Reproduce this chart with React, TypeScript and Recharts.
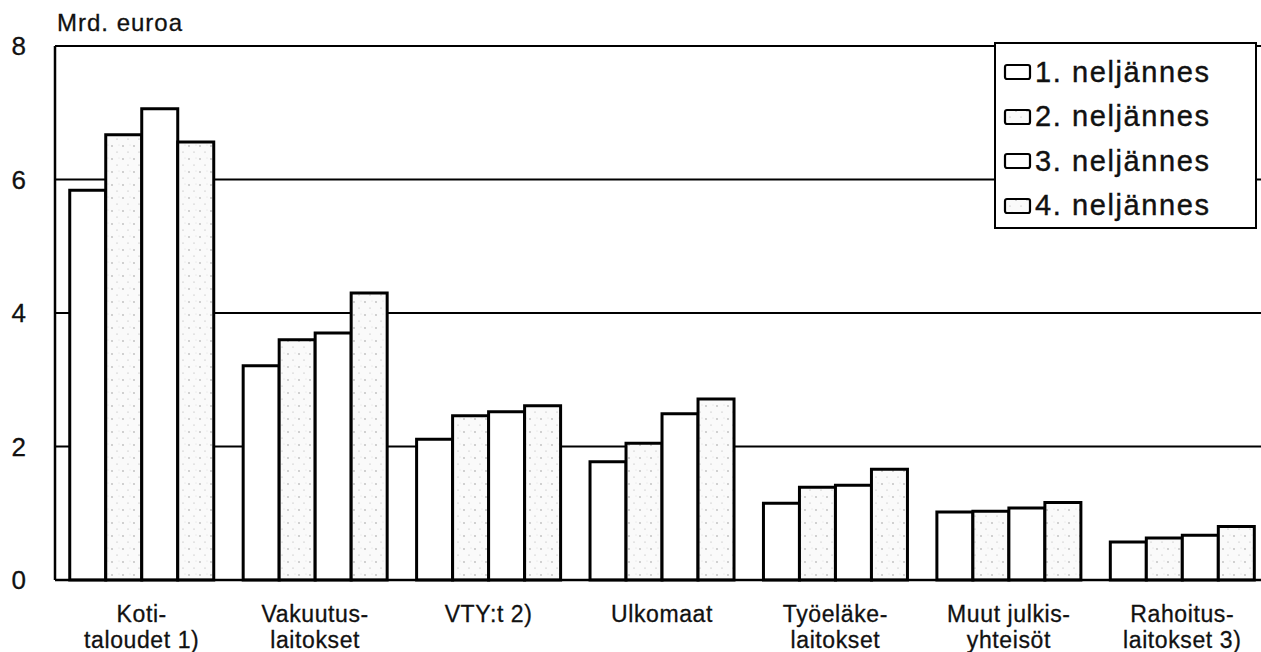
import React from 'react';
import { BarChart, Bar, XAxis, YAxis, CartesianGrid, Legend } from 'recharts';

const categories = [
  'Koti-\ntaloudet 1)',
  'Vakuutus-\nlaitokset',
  'VTY:t 2)',
  'Ulkomaat',
  'Työeläke-\nlaitokset',
  'Muut julkis-\nyhteisöt',
  'Rahoitus-\nlaitokset 3)',
];
const q1 = [5.84, 3.21, 2.11, 1.77, 1.15, 1.02, 0.57];
const q2 = [6.67, 3.6, 2.46, 2.05, 1.39, 1.03, 0.63];
const q3 = [7.06, 3.7, 2.52, 2.49, 1.42, 1.08, 0.67];
const q4 = [6.56, 4.3, 2.61, 2.71, 1.66, 1.16, 0.8];
const seriesNames = ['1. neljännes', '2. neljännes', '3. neljännes', '4. neljännes'];
const yTicks = [0, 2, 4, 6, 8];

const data = categories.map((name, i) => ({ name, q1: q1[i], q2: q2[i], q3: q3[i], q4: q4[i] }));

const FONT = '"Liberation Sans", Arial, Helvetica, sans-serif';
const fills = ['#ffffff', 'url(#stipple)', '#ffffff', 'url(#stipple)'];

const CategoryTick = (props: any) => {
  const { x, y, payload } = props;
  const lines = String(payload.value).split('\n');
  return (
    <text x={x} y={y} textAnchor="middle" fontFamily={FONT} fontSize={23} letterSpacing={0.6} fill="#111" stroke="#111" strokeWidth={0.3}>
      {lines.map((l, i) => (
        <tspan key={i} x={x} y={y + 40 + i * 26}>{l}</tspan>
      ))}
    </text>
  );
};

const LegendBox = (props: any) => {
  const payload = props.payload || [];
  return (
    <div style={{ border: '2.5px solid #000', background: '#fff', width: 263, height: 187, boxSizing: 'border-box', padding: '6px 0 0 7px' }}>
      {payload.map((p: any, i: number) => (
        <div key={i} style={{ display: 'flex', alignItems: 'center', height: 44.5, fontFamily: FONT, fontSize: 29, letterSpacing: 1.6, color: '#111', WebkitTextStroke: '0.4px #111' }}>
          <svg width={30} height={18} style={{ marginRight: 2 }}>
            <rect x={2} y={2} width={25} height={14} rx={2} fill={fills[i]} stroke="#000" strokeWidth={2.2} />
          </svg>
          {p.value}
        </div>
      ))}
    </div>
  );
};

export default function App() {
  return (
    <div style={{ position: 'absolute', left: 0, top: 0, width: 1261, height: 652, overflow: 'hidden', background: '#fff' }}>
      <BarChart
        width={1269}
        height={652}
        data={data}
        margin={{ top: 46, right: 0, bottom: 0, left: 0 }}
        barGap={0}
        barCategoryGap="8.5%"
      >
        <defs>
          <pattern id="stipple" width="11" height="13" patternUnits="userSpaceOnUse">
            <rect width="11" height="13" fill="#fafafa" />
            <circle cx="2" cy="3" r="0.7" fill="#888" />
            <circle cx="7" cy="9" r="0.6" fill="#aaa" />
            <circle cx="9" cy="2" r="0.4" fill="#bbb" />
          </pattern>
        </defs>
        <CartesianGrid vertical={false} stroke="#000" strokeWidth={2} />
        <XAxis
          dataKey="name"
          interval={0}
          height={72}
          tickLine={false}
          tickSize={0}
          axisLine={{ stroke: '#000', strokeWidth: 2.5 }}
          tick={<CategoryTick />}
        />
        <YAxis
          width={55}
          domain={[0, 8]}
          ticks={yTicks}
          tickLine={false}
          tickSize={0}
          tickMargin={29}
          axisLine={{ stroke: '#000', strokeWidth: 2.5 }}
          tick={{ fill: '#111', fontSize: 26, fontFamily: FONT, stroke: '#111', strokeWidth: 0.3 }}
          label={{
            content: () => (
              <text x={57} y={31} fontFamily={FONT} fontSize={24} letterSpacing={1} fill="#111" stroke="#111" strokeWidth={0.3}>
                Mrd. euroa
              </text>
            ),
          }}
        />
        <Legend
          layout="vertical"
          align="center"
          verticalAlign="middle"
          wrapperStyle={{ position: 'absolute', left: 994, top: 42, width: 263 }}
          content={<LegendBox />}
        />
        <Bar dataKey="q1" name={seriesNames[0]} fill={fills[0]} stroke="#000" strokeWidth={3} isAnimationActive={false} />
        <Bar dataKey="q2" name={seriesNames[1]} fill={fills[1]} stroke="#000" strokeWidth={3} isAnimationActive={false} />
        <Bar dataKey="q3" name={seriesNames[2]} fill={fills[2]} stroke="#000" strokeWidth={3} isAnimationActive={false} />
        <Bar dataKey="q4" name={seriesNames[3]} fill={fills[3]} stroke="#000" strokeWidth={3} isAnimationActive={false} />
      </BarChart>
    </div>
  );
}
